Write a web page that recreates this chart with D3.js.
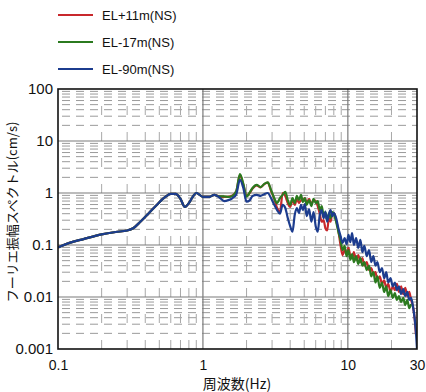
<!DOCTYPE html>
<html><head><meta charset="utf-8">
<script src="https://cdn.jsdelivr.net/npm/d3@7"></script>
<style>
html,body{margin:0;padding:0;background:#fff;}
svg{display:block;}
text{font-family:"Liberation Sans",Arial,sans-serif;}
</style></head>
<body><svg id="c" width="426" height="392"></svg>
<script>
const seriesNames = ["EL+11m(NS)", "EL-17m(NS)", "EL-90m(NS)"];
const seriesColors = ["#c8282c", "#2b7a1f", "#1c3c8e"];
const xTickValues = [0.1, 1, 10, 30];
const xTickLabels = ["0.1", "1", "10", "30"];
const yTickValues = [0.001, 0.01, 0.1, 1, 10, 100];
const yTickLabels = ["0.001", "0.01", "0.1", "1", "10", "100"];
const xTitle = "周波数(Hz)";
const yTitle = "フーリエ振幅スペクトル(cm/s)";

const freqs = [0.1,0.12,0.15,0.2,0.25,0.3,0.33,0.37,0.42,0.48,
  0.55,0.6,0.65,0.7,0.75,0.8,0.85,0.9,0.95,1.0,
  1.1,1.2,1.3,1.4,1.5,1.6,1.7,1.8,1.9,2.0,
  2.1,2.2,2.35,2.5,2.65,2.8,2.95,3.1,
  3.25,3.4,3.55,3.7,3.85,4.0,4.15,4.3,4.45,4.6,
  4.75,4.9,5.05,5.2,5.4,5.6,5.8,6.0,6.2,6.4,
  6.6,6.8,7.0,7.2,7.4,7.6,7.8,8.0,8.3,8.6,
  8.9,9.2,9.5,9.8,10.1,10.4,10.7,11.0,11.4,11.8,
  12.2,12.6,13.0,13.5,14.0,14.5,15.0,15.5,16.0,16.6,
  17.2,17.8,18.4,19.0,19.7,20.4,21.1,21.8,22.5,23.3,
  24.1,24.9,25.7,26.5,27.3,28.1,28.9,29.5,30];

// EL+11m(NS)
const redValues = [0.09,0.11,0.13,0.16,0.178,0.19,0.21,0.28,0.40,0.59,
  0.84,0.96,0.96,0.77,0.54,0.64,0.84,1.0,0.92,0.84,
  0.84,0.92,0.86,0.84,0.85,0.9,1.08,2.2,1.45,0.87,
  1.0,1.22,1.4,1.28,1.48,1.58,1.1,0.78,
  0.515,0.43,1.0,0.88,0.64,0.54,0.73,0.59,0.77,0.64,
  0.73,0.73,0.80,0.64,0.77,0.61,0.73,0.70,0.56,0.40,
  0.28,0.30,0.21,0.19,0.33,0.28,0.40,0.41,0.30,0.19,
  0.10,0.064,0.080,0.070,0.088,0.061,0.056,0.073,0.052,0.064,
  0.047,0.056,0.040,0.047,0.033,0.036,0.028,0.030,0.021,0.025,
  0.018,0.021,0.015,0.018,0.0125,0.016,0.0136,0.018,0.0125,0.016,
  0.0114,0.015,0.0104,0.0125,0.0088,0.0067,0.0039,0.0019,null];

// EL-17m(NS)
const greenValues = [0.09,0.11,0.13,0.16,0.178,0.19,0.21,0.28,0.40,0.59,
  0.84,0.96,0.96,0.77,0.54,0.64,0.84,1.0,0.92,0.84,
  0.84,0.92,0.86,0.86,0.84,0.88,1.1,2.3,1.5,0.85,
  1.02,1.25,1.43,1.3,1.5,1.6,1.15,0.8,
  0.64,0.80,0.92,1.05,0.73,0.59,0.80,0.64,0.88,0.73,
  0.92,0.67,0.80,0.59,0.73,0.56,0.77,0.64,0.70,0.47,
  0.56,0.38,0.43,0.30,0.40,0.33,0.43,0.40,0.28,0.18,
  0.125,0.080,0.096,0.061,0.080,0.052,0.067,0.047,0.061,0.043,
  0.056,0.040,0.047,0.033,0.040,0.025,0.030,0.019,0.025,0.015,
  0.019,0.0125,0.016,0.0104,0.0136,0.0096,0.0119,0.0088,0.0104,0.0080,
  0.0096,0.0070,0.0088,0.0061,0.0073,null,null,null,null];

// EL-90m(NS)
const blueValues = [0.09,0.11,0.13,0.16,0.178,0.19,0.21,0.28,0.40,0.59,
  0.84,0.96,0.96,0.77,0.54,0.64,0.84,1.0,0.92,0.84,
  0.84,0.92,0.82,0.70,0.73,0.80,0.95,1.8,1.25,0.68,
  0.72,0.88,0.92,0.88,0.95,1.0,0.8,0.6,
  0.47,0.40,0.59,0.515,0.33,0.23,0.18,0.38,0.515,0.41,
  0.59,0.47,0.61,0.36,0.49,0.28,0.43,0.23,0.18,0.38,
  0.47,0.33,0.43,0.28,0.40,0.47,0.36,0.41,0.33,0.21,
  0.15,0.11,0.136,0.104,0.156,0.114,0.17,0.10,0.136,0.088,
  0.125,0.073,0.096,0.061,0.080,0.047,0.061,0.040,0.047,0.030,
  0.036,0.023,0.030,0.019,0.023,0.016,0.019,0.0136,0.016,0.0114,
  0.0142,0.0104,0.0125,0.0088,0.0096,0.0067,0.0039,0.0021,0.001];

const seriesValues = [redValues, greenValues, blueValues];

const svg = d3.select("#c");
const L = 58, R = 417, T = 89, B = 349;
const x = d3.scaleLog().domain([0.1, 30]).range([L, R]);
const y = d3.scaleLog().domain([0.001, 100]).range([B, T]);

// grid
const grid = svg.append("g");
const decadesY = [0.001, 0.01, 0.1, 1, 10];
decadesY.forEach(d => {
  for (let m = 2; m <= 9; m++) {
    grid.append("line").attr("x1", L).attr("x2", R)
      .attr("y1", y(d * m)).attr("y2", y(d * m))
      .attr("stroke", "#9a9a9a").attr("stroke-width", 1)
      .attr("stroke-dasharray", "8,6").attr("stroke-dashoffset", -4);
  }
});
const decadesX = [0.1, 1, 10];
decadesX.forEach(d => {
  for (let m = 2; m <= 9; m++) {
    const v = d * m;
    if (v >= 30) continue;
    grid.append("line").attr("y1", B).attr("y2", T)
      .attr("x1", x(v)).attr("x2", x(v))
      .attr("stroke", "#a8a8a8").attr("stroke-width", 1)
      .attr("stroke-dasharray", "9,17");
  }
});
[0.01, 0.1, 1, 10].forEach(v => {
  grid.append("line").attr("x1", L).attr("x2", R)
    .attr("y1", y(v)).attr("y2", y(v))
    .attr("stroke", "#7a7a7a").attr("stroke-width", 1.2);
});
[1, 10].forEach(v => {
  grid.append("line").attr("y1", B).attr("y2", T)
    .attr("x1", x(v)).attr("x2", x(v))
    .attr("stroke", "#7a7a7a").attr("stroke-width", 1.2);
});

// lines
const line = d3.line()
  .defined(d => d[1] != null)
  .x(d => x(d[0])).y(d => y(d[1]))
  .curve(d3.curveMonotoneX);
const clip = svg.append("clipPath").attr("id", "pc");
clip.append("rect").attr("x", L).attr("y", T).attr("width", R - L).attr("height", B - T);
const lg = svg.append("g").attr("clip-path", "url(#pc)");
seriesValues.forEach((vals, i) => {
  const pts = freqs.map((f, j) => [f, vals[j]]);
  lg.append("path").attr("d", line(pts))
    .attr("fill", "none").attr("stroke", seriesColors[i])
    .attr("stroke-width", 2.2).attr("stroke-linejoin", "round");
});

// frame
svg.append("rect").attr("x", L).attr("y", T).attr("width", R - L).attr("height", B - T)
  .attr("fill", "none").attr("stroke", "#111").attr("stroke-width", 1.6);

// axes
const xAxis = d3.axisBottom(x).tickValues(xTickValues)
  .tickFormat((d, i) => xTickLabels[i]).tickSize(0).tickPadding(11);
const gx = svg.append("g").attr("transform", `translate(0,${B})`).call(xAxis);
gx.select(".domain").remove();
gx.selectAll("text").attr("font-size", 14).attr("fill", "#111");

const yAxis = d3.axisLeft(y).tickValues(yTickValues)
  .tickFormat((d, i) => yTickLabels[i]).tickSize(0).tickPadding(5);
const gy = svg.append("g").attr("transform", `translate(${L},0)`).call(yAxis);
gy.select(".domain").remove();
gy.selectAll("text").attr("font-size", 15).attr("fill", "#111");

svg.append("text").attr("x", 237).attr("y", 389).attr("text-anchor", "middle")
  .attr("font-size", 14).attr("fill", "#111")
  .style("font-family", "'Noto Sans CJK JP',sans-serif").text(xTitle);
svg.append("text").attr("transform", "translate(17,212) rotate(-90)")
  .attr("text-anchor", "middle").attr("font-size", 13).attr("fill", "#111")
  .style("font-family", "'Noto Sans CJK JP',sans-serif").text(yTitle);

// legend
const leg = svg.append("g");
seriesNames.forEach((n, i) => {
  const yy = 15 + i * 27;
  leg.append("line").attr("x1", 58).attr("x2", 93).attr("y1", yy).attr("y2", yy)
    .attr("stroke", seriesColors[i]).attr("stroke-width", 2);
  leg.append("text").attr("x", 102).attr("y", yy + 5).attr("font-size", 13)
    .attr("fill", "#111").text(n);
});
</script></body></html>
